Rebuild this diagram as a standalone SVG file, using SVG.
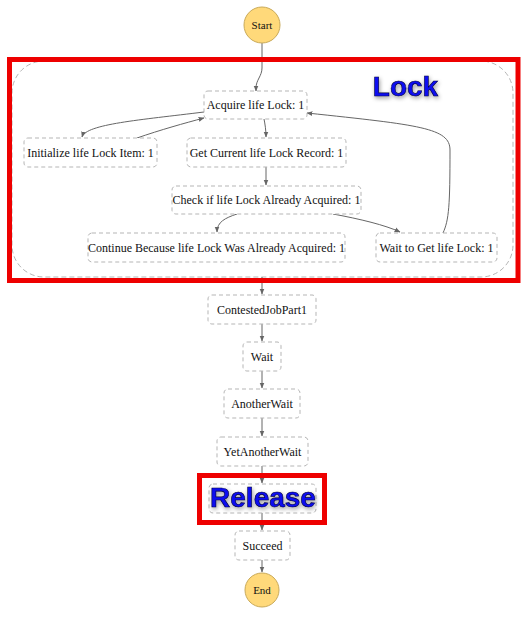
<svg xmlns="http://www.w3.org/2000/svg" width="525" height="620" viewBox="0 0 525 620">
<defs>
<style>
.node rect{fill:#fff;stroke:#b5b5b5;stroke-width:1;stroke-dasharray:4 3}
.node text{font-family:"Liberation Serif","Times New Roman",serif;font-size:12px;fill:#111;text-anchor:middle}
.term circle{fill:#ffd97a;stroke:#c9aa5a;stroke-width:1}
.term text{font-family:"Liberation Serif","Times New Roman",serif;font-size:11px;fill:#111;text-anchor:middle}
.edges path{fill:none;stroke:#666;stroke-width:1}
.cluster{fill:none;stroke:#b5b5b5;stroke-width:1;stroke-dasharray:5 3}
.hl{fill:none;stroke:#ee0000;stroke-width:5}
.big{font-family:"Liberation Sans",Arial,sans-serif;font-weight:bold;font-size:28px;fill:#0a0af0;stroke:#00003a;stroke-width:0.6;text-anchor:middle}
</style>
<marker id="arr" viewBox="0 0 10 10" refX="9" refY="5" markerWidth="6" markerHeight="6" orient="auto" markerUnits="userSpaceOnUse">
<path d="M0,1 L10,5 L0,9 z" fill="#666"/>
</marker>
<filter id="sh" x="-20%" y="-30%" width="140%" height="160%">
<feDropShadow dx="1" dy="2" stdDeviation="2" flood-color="#000" flood-opacity="0.4"/>
</filter>
</defs>

<g id="cluster-lock">
<rect class="cluster" x="12" y="61" width="501" height="216" rx="32"/>
</g>

<g class="edges" id="edges">
<path d="M262,43 L262,68 C262,76 256,80 256,88 L256,91" marker-end="url(#arr)"/>
<path d="M204,112 C140,120 86,124 82,137" marker-end="url(#arr)"/>
<path d="M137,138 C160,130 185,123 204,118" marker-end="url(#arr)"/>
<path d="M264,119 C265,124 266,130 266,137" marker-end="url(#arr)"/>
<path d="M266,167 L266,185" marker-end="url(#arr)"/>
<path d="M237,214 C225,218 217,222 217,232" marker-end="url(#arr)"/>
<path d="M333,214 C360,219 385,225 400,232" marker-end="url(#arr)"/>
<path d="M443,233 C449,220 450,205 450,150 C450,128 420,125 307,113" marker-end="url(#arr)"/>
<path d="M262,277 L262,294" marker-end="url(#arr)"/>
<path d="M262,324 L262,341" marker-end="url(#arr)"/>
<path d="M262,371 L262,388" marker-end="url(#arr)"/>
<path d="M262,418 L262,436" marker-end="url(#arr)"/>
<path d="M262,466 L262,483" marker-end="url(#arr)"/>
<path d="M262,513 L262,530" marker-end="url(#arr)"/>
<path d="M262,560 L262,572" marker-end="url(#arr)"/>
</g>

<g id="start" class="term"><circle cx="262" cy="25" r="18"/><text x="262" y="29">Start</text></g>

<g id="acquire" class="node"><rect x="204" y="91" width="103" height="28" rx="4"/><text x="255.5" y="109">Acquire life Lock: 1</text></g>
<g id="initialize" class="node"><rect x="24" y="138" width="133" height="29" rx="4"/><text x="90.5" y="157">Initialize life Lock Item: 1</text></g>
<g id="getcurrent" class="node"><rect x="187" y="138" width="159" height="29" rx="4"/><text x="266.5" y="157">Get Current life Lock Record: 1</text></g>
<g id="check" class="node"><rect x="172" y="186" width="189" height="28" rx="4"/><text x="266.5" y="204">Check if life Lock Already Acquired: 1</text></g>
<g id="continue" class="node"><rect x="88" y="233" width="257" height="29" rx="4"/><text x="216.5" y="252">Continue Because life Lock Was Already Acquired: 1</text></g>
<g id="waitget" class="node"><rect x="376" y="233" width="121" height="29" rx="4"/><text x="436.5" y="252">Wait to Get life Lock: 1</text></g>

<g id="contested" class="node"><rect x="208" y="295" width="108" height="29" rx="4"/><text x="262" y="314">ContestedJobPart1</text></g>
<g id="wait" class="node"><rect x="243" y="342" width="38" height="29" rx="4"/><text x="262" y="361">Wait</text></g>
<g id="anotherwait" class="node"><rect x="224" y="389" width="76" height="29" rx="4"/><text x="262" y="408">AnotherWait</text></g>
<g id="yetanotherwait" class="node"><rect x="217" y="437" width="91" height="29" rx="4"/><text x="262.5" y="456">YetAnotherWait</text></g>
<g id="release" class="node"><rect x="209" y="484" width="107" height="29" rx="4"/></g>
<g id="succeed" class="node"><rect x="235" y="531" width="55" height="29" rx="4"/><text x="262.5" y="550">Succeed</text></g>

<g id="end" class="term"><circle cx="262" cy="590" r="17"/><text x="262" y="594">End</text></g>

<g id="highlights">
<rect class="hl" x="9.5" y="59.5" width="508.5" height="221"/>
<text class="big" x="405.5" y="96" filter="url(#sh)">Lock</text>
<rect class="hl" x="199.5" y="475.5" width="125" height="47"/>
<text class="big" x="263" y="507" filter="url(#sh)">Release</text>
</g>
</svg>
